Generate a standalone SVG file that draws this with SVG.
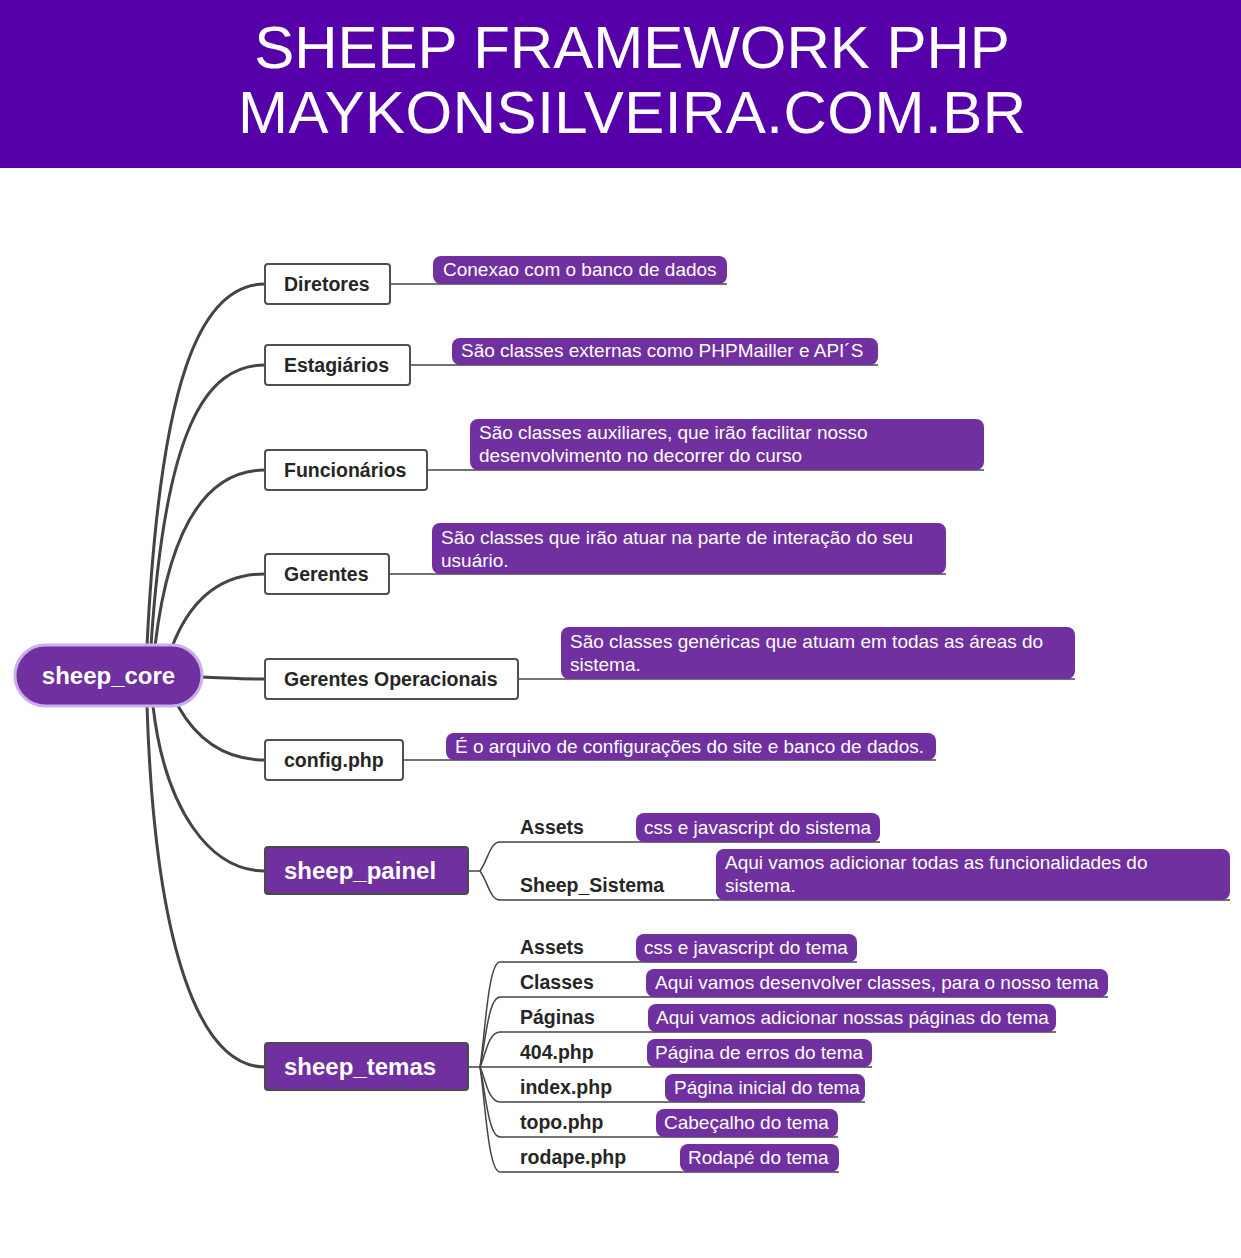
<svg xmlns="http://www.w3.org/2000/svg" width="1241" height="1258" viewBox="0 0 1241 1258">
<style>
.hdr{font-family:"Liberation Sans",Arial,sans-serif;font-size:60px;fill:#fff;text-anchor:middle}
.box{fill:#fff;stroke:#505050;stroke-width:2}
.pbox{fill:#7030a0;stroke:#4a4a4a;stroke-width:2}
.nt{font-family:"Liberation Sans",Arial,sans-serif;font-size:19.5px;font-weight:bold;fill:#262626}
.wt{font-family:"Liberation Sans",Arial,sans-serif;font-size:24px;font-weight:bold;fill:#fff}
.lab{fill:#7030a0}
.lt{font-family:"Liberation Sans",Arial,sans-serif;font-size:19px;fill:#fff}
.main{fill:none;stroke:#444;stroke-width:3;stroke-linecap:round}
.thin{fill:none;stroke:#444;stroke-width:1.5}
</style>
<rect width="1241" height="1258" fill="#fff"/>
<g id="header">
<rect x="0" y="0" width="1241" height="168" fill="#5600aa"/>
<text class="hdr" x="632" y="68">SHEEP FRAMEWORK PHP</text>
<text class="hdr" x="632" y="133" textLength="788" lengthAdjust="spacing">MAYKONSILVEIRA.COM.BR</text>
</g>
<g id="connectors">
<path class="main" d="M147,646 C160,380 200,284 265,284"/>
<path class="main" d="M151,646 C165,430 205,365 265,365"/>
<path class="main" d="M155,646 C170,520 210,470 265,470"/>
<path class="main" d="M172,647 C190,600 220,574 265,574"/>
<path class="main" d="M202,677 C230,678 240,679 265,679"/>
<path class="main" d="M178,706 C200,745 230,760 265,760"/>
<path class="main" d="M153,706 C165,810 210,871 265,871"/>
<path class="main" d="M147,706 C155,950 200,1067 265,1067"/>
<path class="thin" d="M390,284 H727"/>
<path class="thin" d="M410,365 H878"/>
<path class="thin" d="M427,470 H984"/>
<path class="thin" d="M389,574 H946"/>
<path class="thin" d="M518,679 H1075"/>
<path class="thin" d="M403,760 H936"/>
<path class="thin" d="M468,871 H480 C488,860 490,842 500,842 H880"/>
<path class="thin" d="M480,871 C488,882 490,900 500,900 H1230"/>
<path class="thin" d="M468,1067 H480 C485,1036 488,962 500,962 H857"/>
<path class="thin" d="M480,1067 C485,1046 488,997 500,997 H1108"/>
<path class="thin" d="M480,1067 C485,1057 488,1032 500,1032 H1056"/>
<path class="thin" d="M480,1067 H872"/>
<path class="thin" d="M480,1067 C485,1077 488,1102 500,1102 H865"/>
<path class="thin" d="M480,1067 C485,1088 488,1137 500,1137 H838"/>
<path class="thin" d="M480,1067 C485,1098 488,1172 500,1172 H839"/>
</g>
<g id="sheep_core">
<rect x="15" y="645" width="187" height="61" rx="30.5" fill="#7030a0" stroke="#c9aeea" stroke-width="3"/>
<text class="wt" x="108.5" y="684" text-anchor="middle">sheep_core</text>
</g>
<g id="diretores">
<rect class="box" x="265" y="264" width="125" height="40" rx="3"/>
<text class="nt" x="284" y="291">Diretores</text>
<rect class="lab" x="433" y="256" width="294" height="28" rx="8"/>
<text class="lt" x="443" y="276">Conexao com o banco de dados</text>
</g>
<g id="estagiarios">
<rect class="box" x="265" y="345" width="145" height="40" rx="3"/>
<text class="nt" x="284" y="372">Estagiários</text>
<rect class="lab" x="452" y="338" width="426" height="27" rx="8"/>
<text class="lt" x="461" y="357">São classes externas como PHPMailler e API´S</text>
</g>
<g id="funcionarios">
<rect class="box" x="265" y="450" width="162" height="40" rx="3"/>
<text class="nt" x="284" y="477">Funcionários</text>
<rect class="lab" x="470" y="419" width="514" height="51" rx="8"/>
<text class="lt" x="479" y="439">São classes auxiliares, que irão facilitar nosso</text>
<text class="lt" x="479" y="462">desenvolvimento no decorrer do curso</text>
</g>
<g id="gerentes">
<rect class="box" x="265" y="554" width="124" height="40" rx="3"/>
<text class="nt" x="284" y="581">Gerentes</text>
<rect class="lab" x="432" y="523" width="514" height="51" rx="8"/>
<text class="lt" x="441" y="544">São classes que irão atuar na parte de interação do seu</text>
<text class="lt" x="441" y="567">usuário.</text>
</g>
<g id="gerentes_operacionais">
<rect class="box" x="265" y="659" width="253" height="40" rx="3"/>
<text class="nt" x="284" y="686">Gerentes Operacionais</text>
<rect class="lab" x="561" y="627" width="514" height="52" rx="8"/>
<text class="lt" x="570" y="648">São classes genéricas que atuam em todas as áreas do</text>
<text class="lt" x="570" y="671">sistema.</text>
</g>
<g id="config">
<rect class="box" x="265" y="740" width="138" height="40" rx="3"/>
<text class="nt" x="284" y="767">config.php</text>
<rect class="lab" x="446" y="733" width="490" height="27" rx="8"/>
<text class="lt" x="455" y="753">É o arquivo de configurações do site e banco de dados.</text>
</g>
<g id="sheep_painel">
<rect class="pbox" x="265" y="847" width="203" height="47" rx="3"/>
<text class="wt" x="284" y="879">sheep_painel</text>
</g>
<g id="painel_assets">
<text class="nt" x="520" y="834">Assets</text>
<rect class="lab" x="636" y="813" width="244" height="29" rx="8"/>
<text class="lt" x="644" y="834">css e javascript do sistema</text>
</g>
<g id="painel_sistema">
<text class="nt" x="520" y="892">Sheep_Sistema</text>
<rect class="lab" x="716" y="849" width="514" height="51" rx="8"/>
<text class="lt" x="725" y="869">Aqui vamos adicionar todas as funcionalidades do</text>
<text class="lt" x="725" y="892">sistema.</text>
</g>
<g id="sheep_temas">
<rect class="pbox" x="265" y="1043" width="203" height="47" rx="3"/>
<text class="wt" x="284" y="1075">sheep_temas</text>
</g>
<g id="temas_assets">
<text class="nt" x="520" y="954">Assets</text>
<rect class="lab" x="636" y="934" width="221" height="28" rx="8"/>
<text class="lt" x="644" y="954">css e javascript do tema</text>
</g>
<g id="temas_classes">
<text class="nt" x="520" y="989">Classes</text>
<rect class="lab" x="646" y="969" width="462" height="28" rx="8"/>
<text class="lt" x="655" y="989">Aqui vamos desenvolver classes, para o nosso tema</text>
</g>
<g id="temas_paginas">
<text class="nt" x="520" y="1024">Páginas</text>
<rect class="lab" x="648" y="1004" width="408" height="28" rx="8"/>
<text class="lt" x="656" y="1024">Aqui vamos adicionar nossas páginas do tema</text>
</g>
<g id="temas_404">
<text class="nt" x="520" y="1059">404.php</text>
<rect class="lab" x="647" y="1039" width="225" height="28" rx="8"/>
<text class="lt" x="655" y="1059">Página de erros do tema</text>
</g>
<g id="temas_index">
<text class="nt" x="520" y="1094">index.php</text>
<rect class="lab" x="665" y="1074" width="200" height="28" rx="8"/>
<text class="lt" x="674" y="1094">Página inicial do tema</text>
</g>
<g id="temas_topo">
<text class="nt" x="520" y="1129">topo.php</text>
<rect class="lab" x="656" y="1109" width="182" height="28" rx="8"/>
<text class="lt" x="664" y="1129">Cabeçalho do tema</text>
</g>
<g id="temas_rodape">
<text class="nt" x="520" y="1164">rodape.php</text>
<rect class="lab" x="680" y="1144" width="159" height="28" rx="8"/>
<text class="lt" x="688" y="1164">Rodapé do tema</text>
</g>
</svg>
